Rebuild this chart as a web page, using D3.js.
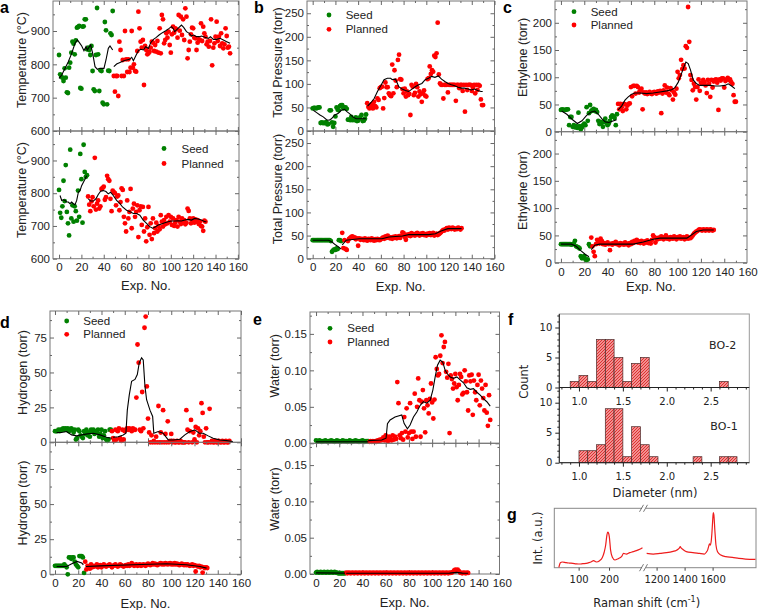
<!DOCTYPE html>
<html>
<head>
<meta charset="utf-8">
<script src="https://cdn.jsdelivr.net/npm/d3@7"></script>
<style>
  body { margin: 0; background: #fff; }
  svg { display: block; }
</style>
</head>
<body>
<script>
// ── data: y values per experiment, x = start index + position ──────────────
const aTopSeed = [828, 770, 763, 760, 750, 788, 760, 716, 714, 790, 805, 835, 868, 862, 830, 872, 910, 912, 915, 729, 727, 913, 914, 935, 935, 845, 850, 843, 828, 855, 780, 725, 720, 828, 969, 830, 720, 782, 780, 685, 680, 927, 902, 680, 781, 780, 893, 888, 960];
const aTopPlan = [
  765, 718, 765, 765, 705, 868, 843, 765, 813, 765,
  900, 815, 777, 815, 777, 790, 900, 790, 800, 780,
  778, 840, 958, 908, 868, 850, 873, 738, 855, 843,
  830, 833, 838, 850, 868, 865, 840, 858, 838, 870,
  835, 908, 833, 948, 935, 863, 873, 893, 880, 898,
  858, 835, 890, 913, 895, 908, 905, 880, 948, 901,
  943, 888, 935, 873, 968, 943, 818, 843, 868, 890,
  910, 908, 880, 878, 843, 865, 875, 873, 923, 870,
  913, 893, 883, 860, 868, 853, 870, 935, 797, 850,
  863, 883, 928, 870, 883, 855, 893, 863, 848, 860,
  908, 885, 850, 853, 833];
const aBotSeed = [810, 740, 725, 760, 838, 776, 886, 743, 708, 671, 933, 723, 763, 713, 760, 745, 716, 808, 728, 920, 843, 710, 948, 865, 850, 855];
const aBotPlan = [
  790, 765, 745, 775, 788, 760, 908, 750, 768, 778,
  753, 760, 813, 816, 820, 780, 788, 853, 843, 838,
  783, 745, 808, 803, 800, 763, 790, 793, 748, 773,
  815, 810, 728, 708, 683, 778, 723, 743, 813, 693,
  753, 768, 728, 743, 763, 666, 748, 760, 703, 758,
  683, 723, 653, 696, 758, 673, 708, 660, 723, 678,
  693, 710, 683, 700, 690, 733, 713, 698, 718, 705,
  728, 708, 733, 713, 728, 703, 723, 700, 710, 718,
  698, 728, 713, 706, 723, 713, 718, 705, 710, 753,
  746, 723, 708, 718, 723, 710, 720, 713, 718, 706,
  713, 700, 698, 685, 716, 713];
const aTopSeedLine = [[0,758],[2.4,768],[5.4,788],[8.3,808],[11.3,833],[14.3,863],[16.4,873],[18.2,865],[20.3,855],[22.3,841],[24.1,853],[25.3,843],[27.1,853],[28.3,858],[30.1,833],[32.2,793],[34.3,785],[36.6,788],[40.2,788],[42,813],[44.1,848],[45.6,855],[48,843]];
const aTopPlanLine = [[49,793],[51.5,801],[54,805],[56,808],[58,811],[60.5,813],[63,815],[65,821],[66.5,811],[69,828],[71,841],[73,845],[75.5,843],[77.5,853],[80,848],[82,865],[84.5,875],[87,881],[89.5,888],[92.5,895],[95.5,901],[98.5,908],[100.5,913],[102,908],[103.5,898],[106.5,908],[109.5,918],[111.5,911],[114,898],[116.5,893],[118.5,885],[120.5,888],[123,883],[125.5,883],[127.5,885],[130.5,881],[133.5,878],[135.5,883],[138,875],[141,875],[144,878],[147,873],[150,868],[153,863]];
const aBotSeedLine = [[0.9,793],[2.4,778],[3.9,780],[5.4,778],[6.8,773],[8.3,773],[9.8,768],[11.3,773],[12.8,768],[14.3,765],[15.8,778],[17.3,803],[18.8,808],[20.2,823],[21.7,833],[23.2,843],[24.7,853]];
const aBotPlanLine = [[26.2,783],[28.3,776],[30.7,776],[33,783],[35.1,796],[37.2,806],[39.6,808],[42,805],[44,798],[46.1,803],[48.5,793],[51.5,778],[54.5,768],[56.8,758],[60.4,748],[63.9,743],[66.4,738],[69.3,738],[72.3,733],[75.3,718],[78.3,708],[81.2,698],[83.6,693],[85.7,696],[88.7,703],[91.7,706],[94.6,710],[97.6,713],[100.6,715],[103.6,715],[106.5,716],[109.5,715],[112.5,718],[115.5,720],[118.5,718],[121.4,723],[124.4,721],[127.4,718],[130.4,713],[131.8,713]];

const bTopSeed = [48, 49, 49, 48, 49, 50, 50, 17, 18, 17, 17, 17, 19, 14, 15, 44, 44, 18, 9, 17, 31, 50, 45, 44, 53, 55, 55, 48, 50, 50, 47, 24, 24, 23, 30, 23, 24, 23, 29, 21, 22, 26, 30, 34, 21, 22, 26, 35];
const bTopPlan = [
  59, 51, 48, 53, 57, 48, 62, 53, 50, 69,
  66, 91, 93, 94, 48, 70, 103, 93, 93, 80,
  76, 74, 141, 80, 129, 107, 93, 151, 162, 110,
  109, 89, 80, 90, 73, 84, 76, 79, 34, 98,
  94, 76, 81, 100, 93, 73, 84, 78, 62, 80,
  86, 75, 73, 110, 112, 137, 121, 129, 126, 160,
  157, 165, 230, 120, 101, 98, 98, 69, 98, 98,
  98, 82, 98, 98, 98, 98, 98, 98, 64, 98,
  98, 91, 98, 98, 85, 98, 41, 98, 87, 98,
  98, 98, 85, 93, 98, 80, 98, 87, 98, 96,
  67, 55, 55];
const bBotSeed = [40, 40, 40, 40, 40, 40, 40, 40, 40, 40, 40, 40, 40, 40, 40, 40, 38, 15, 18, 20, 19, 22, 21, 40, 40, 38];
const bBotPlan = [
  56, 23, 40, 21, 19, 38, 43, 45, 47, 48,
  45, 46, 42, 44, 28, 44, 41, 43, 42, 40,
  44, 41, 39, 43, 42, 40, 44, 41, 39, 42,
  40, 43, 41, 40, 42, 44, 46, 43, 48, 45,
  50, 47, 44, 46, 43, 47, 45, 48, 44, 46,
  49, 45, 50, 57, 55, 47, 41, 52, 50, 53,
  49, 55, 51, 53, 50, 54, 56, 52, 50, 54,
  52, 55, 51, 53, 50, 54, 52, 55, 51, 53,
  56, 50, 52, 54, 51, 53, 55, 57, 60, 62,
  61, 64, 66, 63, 67, 65, 64, 67, 66, 63,
  65, 64, 67, 66, 63, 66];
const bTopSeedLine = [[0.6,44],[3.5,39],[6.4,34],[9.3,30],[12.2,24],[14.5,23],[16.5,26],[19.4,34],[22.3,37],[25.2,44],[28.1,46],[30.1,41],[32.4,37],[35.3,30],[38.2,26],[41.1,26],[44,26],[46.9,26]];
const bTopPlanLine = [[48.3,53],[51.2,60],[54.1,69],[57,84],[59.9,96],[62.8,109],[65.7,112],[68.6,112],[70,109],[72.9,110],[75.8,94],[78.7,89],[81.6,86],[84.5,84],[87.4,89],[90.3,94],[93.2,98],[96.1,101],[99,109],[101.9,112],[104.7,116],[107.6,114],[110.5,117],[113.4,110],[116.3,105],[119.2,101],[122.1,98],[125,96],[127.9,93],[130.8,91],[133.7,91],[136.6,89],[139.5,87],[142.4,89],[145.3,86],[148.1,84],[149.6,84]];
const bBotSeedLine = [[0,40],[14,40],[17,36],[20,30],[23,25],[25,21]];
const bBotPlanLine = [[26,30],[29.5,40],[41,43],[61,43],[67,47],[79,49],[84.5,52],[102,52],[108,54],[113,60],[119,65],[128,65],[131,65]];

const cTopSeed = [40, 41, 40, 40, 40, 41, 41, 12, 27, 27, 9, 12, 8, 10, 7, 35, 10, 4, 8, 12, 15, 12, 45, 20, 34, 49, 38, 40, 42, 38, 40, 36, 20, 14, 18, 16, 9, 18, 24, 16, 12, 15, 20, 27, 30, 28, 25, 12, 32];
const cTopPlan = [
  51, 41, 51, 45, 38, 51, 50, 41, 48, 51,
  52, 82, 65, 84, 84, 70, 84, 82, 72, 76,
  79, 41, 72, 70, 72, 69, 71, 73, 70, 69,
  72, 73, 71, 70, 74, 72, 75, 34, 70, 76,
  85, 72, 81, 70, 67, 80, 76, 59, 72, 68,
  79, 110, 98, 104, 132, 115, 122, 116, 157, 154,
  229, 165, 104, 95, 76, 88, 82, 59, 82, 96,
  75, 90, 88, 95, 91, 85, 71, 95, 88, 64,
  95, 81, 92, 95, 96, 90, 40, 96, 94, 98,
  98, 81, 93, 96, 99, 95, 96, 91, 88, 67,
  55, 55];
const cBotSeed = [34, 34, 34, 34, 34, 34, 34, 34, 34, 33, 34, 35, 40, 30, 29, 28, 26, 12, 8, 10, 12, 6, 5, 6, 34, 30];
const cBotPlan = [
  46, 30, 20, 12, 34, 42, 38, 35, 44, 40,
  34, 36, 33, 35, 37, 34, 23, 35, 33, 36,
  35, 38, 34, 35, 32, 36, 34, 35, 33, 37,
  34, 35, 32, 36, 34, 38, 36, 40, 38, 42,
  37, 39, 36, 40, 38, 35, 39, 37, 41, 36,
  38, 35, 42, 50, 47, 37, 45, 43, 46, 44,
  48, 45, 43, 47, 50, 44, 46, 43, 47, 45,
  44, 48, 46, 43, 47, 45, 48, 44, 46, 47,
  43, 45, 48, 44, 46, 45, 47, 50, 53, 55,
  57, 58, 60, 61, 60, 59, 61, 60, 59, 61,
  60, 59, 61, 60, 59, 60];
const cTopSeedLine = [[0.6,38],[5,32],[10,22],[14,15],[18,20],[22,30],[26,36],[29,38],[32,32],[35,24],[38,18],[41,17],[44,19],[47.7,22]];
const cTopPlanLine = [[49.1,40],[52,47],[54.9,58],[57.7,64],[60.6,69],[63.4,71],[67.7,71],[73.4,70],[79.1,71],[84.9,73],[90.6,75],[94.9,77],[97.7,81],[100.6,91],[103.4,107],[105.4,119],[107.1,128],[109.1,125],[111.1,113],[113.4,95],[116.3,88],[119.1,85],[123.4,85],[127.7,85],[132,84],[136.3,84],[140.6,85],[143.4,88],[146.3,84],[149.1,79]];
const cBotSeedLine = [[0,34],[9,34],[13,30],[17,22],[21,15],[24,11]];
const cBotPlanLine = [[26,24],[29,32],[33,34],[62,34],[70.6,38],[79,43],[85,45],[108,45],[116,57],[122,60],[131,60]];

const dTopSeed = [8, 8, 8, 9, 8, 9, 9, 10, 9, 10, 9, 10, 8, 9, 10, 9, 7, 9, 2, 3, 9, 8, 5, 4, 3, 8, 6, 9, 5, 7, 4, 9, 8, 9, 6, 8, 7, 9, 4, 6, 9, 3, 5, 8, 2, 1, 2, 9, 9];
const dTopPlan = [
  8, 3, 1, 9, 2, 8, 10, 3, 1, 9,
  2, 8, 9, 10, 9, 10, 9, 8, 10, 9,
  9, 32, 70, 57, 9, 8, 36, 10, 82, 90,
  40, 17, 7, 0, 5, 0, 1, 0, 4, 0,
  26, 0, 7, 0, 23, 0, 6, 0, 15, 0,
  1, 6, 0, 1, 0, 0, 1, 0, 0, 1,
  0, 0, 0, 0, 23, 9, 0, 8, 16, 0,
  7, 2, 11, 0, 10, 5, 8, 28, 21, 4,
  0, 10, 0, 0, 24, 0, 1, 0, 0, 1,
  0, 0, 1, 0, 0, 1, 0, 0, 1, 0,
  0, 1];
const dBotSeed = [6, 6, 6, 6, 6, 6, 6, 6, 7, 6, 5, 0, 12, 12, 11, 12, 12, 9, 7, 6, 5, 13, 13, 13, 12, 1];
const dBotPlan = [
  9, 3.5, 6, 5, 4, 7, 5, 6, 5.5, 6,
  7, 5, 6, 6.5, 5, 6, 7, 6, 5.5, 6,
  6.5, 7, 6, 5, 6, 6.5, 7, 6, 5.5, 6,
  7, 6.5, 6, 5.5, 6, 6.5, 6, 7, 6, 6.5,
  8, 7, 6, 6.5, 7, 6, 6.5, 7, 6, 6.5,
  7, 6.5, 6, 7, 7.5, 7, 6.5, 7, 8, 7,
  7.5, 7, 6.5, 7, 7.5, 8, 7, 7.5, 7, 8,
  7.5, 7, 7.5, 8, 7, 7.5, 7, 8, 7, 7.5,
  7, 6.5, 7, 7.5, 7, 6.5, 7, 6.5, 7, 6.5,
  6, 6.5, 7, 6, 6.5, 2, 6, 5.5, 6, 5,
  5.5, 1.2, 5, 4.5, 5, 4.5];
const dTopSeedLine = [[1.4,7],[5.7,7],[10,7.7],[14.3,5.3],[18.6,4.6],[23,5.3],[27.8,6],[33,6.5],[38.7,5.3],[44.4,3.6],[48.7,2.9]];
const dTopPlanLine = [[50,3.6],[54.4,4],[58.7,5.3],[61,6.5],[62.2,23],[63.9,34],[65.9,43.7],[68.8,45],[70.8,48.5],[72.5,57],[74.5,60.5],[75.9,59],[77.4,40],[78.8,30.5],[81.7,23],[84,18.5],[85,6.5],[88.8,7.7],[93,6.5],[97.4,1.7],[101.7,1.7],[107.4,2.2],[111.7,5.3],[116,7.7],[120.3,8.9],[124,6.5],[127.5,6.5],[131.8,4.6],[136,2.9],[141.8,1.7],[147.6,1.2],[153,0.5]];
const dBotSeedLine = [[1.4,5.6],[10,5.6],[14,7.3],[19,9.2],[23,8],[24.4,6.8]];
const dBotPlanLine = [[26.6,5.6],[38.7,6],[67.3,6.8],[96,7.5],[113,6.8],[124.6,5.6],[130.4,4.4]];

const eTopSeed = [0.004, 0.003, 0.003, 0.004, 0.003, 0.002, 0.003, 0.003, 0.004, 0.003, 0.002, 0.003, 0.003, 0.004, 0.003, 0.003, 0.002, 0.003, 0.004, 0.003, 0.003, 0.002, 0.003, 0.004, 0.003, 0.003, 0.003, 0.002, 0.003, 0.004, 0.003, 0.002, 0.003, 0.003, 0.004, 0.003, 0.003, 0.002, 0.003, 0.003, 0.004, 0.003, 0.002, 0.003, 0.003, 0.003];
const eTopPlan = [
  0.002, 0.003, 0.002, 0.003, 0.002, 0.003, 0.002, 0.004, 0.003, 0.005,
  0.004, 0.006, 0.008, 0.004, 0.011, 0.006, 0.003, 0.009, 0.006, 0.004,
  0.011, 0.005, 0.009, 0.006, 0.084, 0.055, 0.011, 0.007, 0.014, 0.005,
  0.036, 0.016, 0.048, 0.008, 0.014, 0.055, 0.016, 0.006, 0.016, 0.068,
  0.009, 0.050, 0.089, 0.059, 0.009, 0.057, 0.073, 0.048, 0.015, 0.059,
  0.052, 0.041, 0.061, 0.082, 0.056, 0.034, 0.060, 0.118, 0.102, 0.093,
  0.095, 0.120, 0.148, 0.110, 0.132, 0.139, 0.098, 0.090, 0.109, 0.014,
  0.093, 0.088, 0.075, 0.082, 0.095, 0.077, 0.059, 0.080, 0.095, 0.091,
  0.067, 0.069, 0.100, 0.085, 0.070, 0.045, 0.093, 0.085, 0.094, 0.039,
  0.086, 0.070, 0.059, 0.080, 0.094, 0.052, 0.086, 0.075, 0.062, 0.045,
  0.080, 0.042, 0.024, 0.066, 0.032];
const eBotSeed = [0.002, 0.003, 0.002, 0.002, 0.003, 0.002, 0.002, 0.003, 0.002, 0.002, 0.003, 0.002, 0.002, 0.003, 0.002, 0.002, 0.003, 0.002, 0.002, 0.001, 0.001, 0.001, 0.001, 0.001, 0.001, 0.001];
const eBotPlan = [
  0.002, 0.001, 0.002, 0.0015, 0.001, 0.002, 0.0015, 0.001, 0.002, 0.0015,
  0.001, 0.002, 0.0015, 0.001, 0.002, 0.0015, 0.001, 0.002, 0.0015, 0.001,
  0.002, 0.0015, 0.001, 0.002, 0.0015, 0.001, 0.002, 0.0015, 0.001, 0.002,
  0.0015, 0.001, 0.002, 0.0015, 0.001, 0.002, 0.0015, 0.001, 0.002, 0.0015,
  0.001, 0.002, 0.0015, 0.001, 0.002, 0.0015, 0.001, 0.002, 0.0015, 0.001,
  0.002, 0.0015, 0.001, 0.002, 0.0015, 0.001, 0.002, 0.0015, 0.001, 0.002,
  0.0015, 0.001, 0.002, 0.0015, 0.001, 0.002, 0.0015, 0.001, 0.002, 0.0015,
  0.001, 0.002, 0.0015, 0.001, 0.002, 0.0015, 0.001, 0.002, 0.0015, 0.001,
  0.002, 0.0015, 0.001, 0.002, 0.0015, 0.001, 0.002, 0.0015, 0.001, 0.002,
  0.0015, 0.002, 0.003, 0.005, 0.006, 0.005, 0.006, 0.004, 0.002, 0.0015,
  0.001, 0.002, 0.0015, 0.001, 0.002, 0.0015];
const eTopSeedLine = [[0,0.002],[45,0.002]];
const eTopPlanLine = [[45,0.0036],[56.6,0.0045],[60.3,0.007],[61.5,0.027],[63.8,0.032],[68,0.036],[73.8,0.039],[75.9,0.027],[78.7,0.02],[81,0.025],[83.9,0.036],[86.8,0.043],[89.7,0.052],[92.5,0.057],[95.4,0.055],[98.3,0.059],[100.6,0.073],[102.6,0.091],[104.6,0.107],[106.9,0.114],[109.2,0.111],[111.2,0.1],[113.2,0.095],[115.5,0.091],[118.4,0.089],[121.3,0.091],[124.1,0.087],[127,0.083],[129.9,0.076],[132.8,0.074],[135.6,0.075],[138.5,0.07],[141.4,0.066],[144.3,0.061],[147.1,0.057],[150,0.051]];
const eBotSeedLine = [[0,0.0015],[25,0.0012]];
const eBotPlanLine = [[26,0.001],[115,0.0012],[121,0.0022],[126,0.0012],[131,0.001]];

// diameter histograms, bins of 0.1 nm starting at these edges
const binStarts = [0.9, 1.0, 1.1, 1.2, 1.3, 1.4, 1.5, 1.6, 1.7, 1.8, 1.9, 2.0, 2.1, 2.2, 2.3, 2.4, 2.5, 2.6, 2.7];
const bo2Counts = [1, 2, 1, 8, 8, 5, 1, 4, 5, 0, 0, 0, 0, 0, 0, 0, 0, 1, 0];
const bo1Counts = [0, 2, 2, 3, 9, 9, 1, 6, 3, 1, 0, 0, 0, 0, 1, 0, 0, 1, 1];

// raman spectrum (two windows of the broken axis)
const ramanLowX = [35, 40, 46, 59, 70, 81, 92, 103, 114, 125, 134, 142, 149, 158, 169, 178, 184, 189, 193, 196, 198, 201, 205, 211, 219, 230, 241, 248, 257, 268, 279, 290, 301, 310];
const ramanLowY = [0.006, 0.084, 0.096, 0.084, 0.078, 0.073, 0.066, 0.062, 0.068, 0.073, 0.085, 0.1, 0.118, 0.096, 0.118, 0.17, 0.26, 0.382, 0.55, 0.6, 0.59, 0.52, 0.3, 0.174, 0.13, 0.152, 0.185, 0.24, 0.23, 0.253, 0.27, 0.287, 0.31, 0.337];
const ramanHighX = [1129, 1176, 1224, 1271, 1318, 1340, 1353, 1362, 1369, 1376, 1384, 1412, 1459, 1506, 1541, 1555, 1565, 1572, 1578, 1584, 1591, 1595, 1600, 1605, 1609, 1616, 1624, 1635, 1659, 1694, 1741, 1788, 1835, 1906];
const ramanHighY = [0.24, 0.23, 0.24, 0.253, 0.275, 0.29, 0.31, 0.33, 0.354, 0.33, 0.315, 0.27, 0.253, 0.24, 0.23, 0.26, 0.3, 0.36, 0.4, 0.38, 0.466, 0.58, 0.775, 0.927, 0.89, 0.635, 0.382, 0.27, 0.213, 0.185, 0.174, 0.157, 0.146, 0.14];

const expTicks = [0, 20, 40, 60, 80, 100, 120, 140, 160];
const expMinor = [10, 30, 50, 70, 90, 110, 130, 150];

// ── drawing ────────────────────────────────────────────────────────────────
const SANS = "'Liberation Sans', Arial, Helvetica, sans-serif";
const IGOR = "'DejaVu Sans', Verdana, sans-serif";
const GREEN = "#008000", RED = "#ff0000";

const svg = d3.select("body").append("svg")
  .attr("width", 758).attr("height", 610)
  .attr("font-family", SANS);

function tickSet(g, axis, transform, values, size, fmt, opts = {}) {
  axis.tickValues(values).tickSize(size).tickPadding(opts.pad ?? 3);
  axis.tickFormat(fmt || (() => ""));
  const sel = g.append("g").attr("transform", transform).call(axis);
  sel.attr("font-family", opts.font || SANS).attr("font-size", opts.fs || 11.5);
  sel.select(".domain").remove();
  sel.selectAll("line").attr("stroke", opts.color || "#666");
  sel.selectAll("text").attr("fill", "#222");
  return sel;
}

function expPanel(p) {
  const g = svg.append("g");
  const x = d3.scaleLinear().domain(p.xDomain).range([p.left, p.right]);
  const parts = [
    { d: p.upper, y0: p.top, y1: p.mid, labY: p.labY[0] },
    { d: p.lower, y0: p.mid, y1: p.bottom, labY: p.labY[1] }
  ];
  parts.forEach((s, k) => {
    const y = d3.scaleLinear().domain(p.yDomain).range([s.y1, s.y0]);

    g.append("rect")
      .attr("x", p.left).attr("y", s.y0)
      .attr("width", p.right - p.left).attr("height", s.y1 - s.y0)
      .attr("fill", "none").attr("stroke", "#777").attr("stroke-width", 1);

    tickSet(g, d3.axisLeft(y), `translate(${p.left},0)`, p.yTicks, -4, p.yFmt);
    tickSet(g, d3.axisLeft(y), `translate(${p.left},0)`, p.yMinor, -2);
    tickSet(g, d3.axisRight(y), `translate(${p.right},0)`, p.yTicks, -4);
    tickSet(g, d3.axisRight(y), `translate(${p.right},0)`, p.yMinor, -2);
    const bx = tickSet(g, d3.axisBottom(x), `translate(0,${s.y1})`, expTicks, -4,
      k === 1 ? d3.format("d") : null, { pad: p.xPad });
    bx.selectAll(".tick").filter(v => x(v) > p.right + 0.5).select("line").remove();
    tickSet(g, d3.axisBottom(x), `translate(0,${s.y1})`, expMinor, -2);
    const tx = tickSet(g, d3.axisTop(x), `translate(0,${s.y0})`, expTicks, -4);
    tx.selectAll(".tick").filter(v => x(v) > p.right + 0.5).select("line").remove();
    tickSet(g, d3.axisTop(x), `translate(0,${s.y0})`, expMinor, -2);

    const seed = s.d.seed.map((v, i) => [i, v]);
    const plan = s.d.plan.map((v, i) => [s.d.planStart + i, v]);
    g.append("g").selectAll("circle").data(seed).join("circle")
      .attr("cx", q => x(q[0])).attr("cy", q => y(q[1])).attr("r", 2.4).attr("fill", GREEN);
    g.append("g").selectAll("circle").data(plan).join("circle")
      .attr("cx", q => x(q[0])).attr("cy", q => y(q[1])).attr("r", 2.4).attr("fill", RED);

    const line = d3.line().x(q => x(q[0])).y(q => y(q[1]));
    [s.d.seedLine, s.d.planLine].forEach(l => {
      g.append("path").attr("d", line(l))
        .attr("fill", "none").attr("stroke", "#000").attr("stroke-width", 1.1);
    });

    g.append("text")
      .attr("transform", `translate(${p.labX},${s.labY}) rotate(-90)`)
      .attr("text-anchor", "middle").attr("dominant-baseline", "central")
      .attr("font-size", 12.5).attr("fill", "#222")
      .text(p.ylabel);
  });

  g.append("text")
    .attr("x", (p.left + p.right) / 2).attr("y", p.xLabY)
    .attr("text-anchor", "middle").attr("font-size", 13).attr("fill", "#222")
    .text("Exp. No.");

  const lg = p.legend;
  [["Seed", GREEN], ["Planned", RED]].forEach(([name, col], i) => {
    g.append("circle").attr("cx", lg.x).attr("cy", lg.y + i * lg.dy).attr("r", 2.4).attr("fill", col);
    g.append("text").attr("x", lg.tx).attr("y", lg.y + i * lg.dy)
      .attr("dominant-baseline", "central").attr("font-size", 11.5).attr("fill", "#222")
      .text(name);
  });

  g.append("text").attr("x", p.tag[0]).attr("y", p.tag[1])
    .attr("font-size", 16).attr("font-weight", "bold").text(p.tag[2]);
}

expPanel({
  left: 53, right: 239, top: 1, mid: 131, bottom: 258.7,
  xDomain: [-5.4, 161], yDomain: [600, 990],
  yTicks: [600, 700, 800, 900], yMinor: [650, 750, 850, 950], yFmt: d3.format("d"),
  ylabel: "Temperature (\u00b0C)", labX: 22, labY: [60, 190], xLabY: 289.5, xPad: 4,
  upper: { seed: aTopSeed, planStart: 49, plan: aTopPlan, seedLine: aTopSeedLine, planLine: aTopPlanLine },
  lower: { seed: aBotSeed, planStart: 26, plan: aBotPlan, seedLine: aBotSeedLine, planLine: aBotPlanLine },
  legend: { x: 164, y: 148.5, dy: 15, tx: 181.5 }, tag: [0, 13, "a"]
});
expPanel({
  left: 307, right: 494.5, top: 1, mid: 131, bottom: 258.7,
  xDomain: [-5, 160], yDomain: [0, 276],
  yTicks: [0, 50, 100, 150, 200, 250], yMinor: [25, 75, 125, 175, 225], yFmt: d3.format("d"),
  ylabel: "Total Pressure (torr)", labX: 278.3, labY: [62.5, 189], xLabY: 291, xPad: 4,
  upper: { seed: bTopSeed, planStart: 48, plan: bTopPlan, seedLine: bTopSeedLine, planLine: bTopPlanLine },
  lower: { seed: bBotSeed, planStart: 26, plan: bBotPlan, seedLine: bBotSeedLine, planLine: bBotPlanLine },
  legend: { x: 329, y: 15, dy: 14.3, tx: 345.7 }, tag: [254, 13, "b"]
});
expPanel({
  left: 555, right: 747, top: 1, mid: 131.7, bottom: 262.7,
  xDomain: [-5.1, 159.5], yDomain: [0, 240],
  yTicks: [0, 50, 100, 150, 200], yMinor: [25, 75, 125, 175, 225], yFmt: d3.format("d"),
  ylabel: "Ethylene (torr)", labX: 523.3, labY: [57.5, 190.5], xLabY: 291, xPad: 5,
  upper: { seed: cTopSeed, planStart: 49, plan: cTopPlan, seedLine: cTopSeedLine, planLine: cTopPlanLine },
  lower: { seed: cBotSeed, planStart: 26, plan: cBotPlan, seedLine: cBotSeedLine, planLine: cBotPlanLine },
  legend: { x: 574, y: 11.7, dy: 13.3, tx: 590.7 }, tag: [503, 13, "c"]
});
expPanel({
  left: 50, right: 241, top: 311, mid: 442.3, bottom: 574.3,
  xDomain: [-4.3, 160], yDomain: [0, 94],
  yTicks: [0, 25, 50, 75], yMinor: [12.5, 37.5, 62.5, 87.5], yFmt: d3.format("d"),
  ylabel: "Hydrogen (torr)", labX: 23.3, labY: [372.5, 503], xLabY: 607.5, xPad: 5,
  upper: { seed: dTopSeed, planStart: 49, plan: dTopPlan, seedLine: dTopSeedLine, planLine: dTopPlanLine },
  lower: { seed: dBotSeed, planStart: 26, plan: dBotPlan, seedLine: dBotSeedLine, planLine: dBotPlanLine },
  legend: { x: 66.7, y: 321, dy: 13.3, tx: 83.3 }, tag: [0, 328, "d"]
});
expPanel({
  left: 310, right: 499.5, top: 312, mid: 443.3, bottom: 574,
  xDomain: [-5.2, 158], yDomain: [0, 0.18],
  yTicks: [0, 0.05, 0.10, 0.15], yMinor: [0.025, 0.075, 0.125, 0.175], yFmt: d3.format(".2f"),
  ylabel: "Water (torr)", labX: 275, labY: [365.7, 499], xLabY: 607, xPad: 5,
  upper: { seed: eTopSeed, planStart: 46, plan: eTopPlan, seedLine: eTopSeedLine, planLine: eTopPlanLine },
  lower: { seed: eBotSeed, planStart: 26, plan: eBotPlan, seedLine: eBotSeedLine, planLine: eBotPlanLine },
  legend: { x: 330, y: 328.3, dy: 13.7, tx: 347.3 }, tag: [253, 325, "e"]
});

// ── f: diameter histograms ────────────────────────────────────────────────
(function () {
  const g = svg.append("g");
  const defs = svg.append("defs");
  const pat = defs.append("pattern").attr("id", "hatch")
    .attr("patternUnits", "userSpaceOnUse").attr("width", 3).attr("height", 3);
  pat.append("rect").attr("width", 3).attr("height", 3).attr("fill", "#f29090");
  pat.append("path").attr("d", "M0,3L3,0M-1,1L1,-1M2,4L4,2").attr("stroke", "#d92626").attr("stroke-width", 0.9);

  const L = 559.3, R = 749.3;
  const x = d3.scaleLinear().domain([0.776, 2.94]).range([L, R]);
  const hists = [
    { counts: bo2Counts, name: "BO-2", y0: 314, y1: 387.5, nx: 722.7, ny: 345.7 },
    { counts: bo1Counts, name: "BO-1", y0: 387.5, y1: 462.7, nx: 724, ny: 426.7 }
  ];
  g.append("rect").attr("x", L).attr("y", 314).attr("width", R - L).attr("height", 462.7 - 314)
    .attr("fill", "none").attr("stroke", "#999");
  hists.forEach(h => {
    const y = d3.scaleLinear().domain([0, 10]).range([h.y1, h.y1 - 60]);
    const bins = binStarts.map((b, i) => ({ b, c: h.counts[i] })).filter(q => q.c > 0);
    g.append("g").selectAll("rect").data(bins).join("rect")
      .attr("x", q => x(q.b)).attr("width", q => x(q.b + 0.1) - x(q.b))
      .attr("y", q => y(q.c)).attr("height", q => h.y1 - y(q.c))
      .attr("fill", "url(#hatch)").attr("stroke", "#4a2a2a").attr("stroke-width", 0.7);

    tickSet(g, d3.axisLeft(y), `translate(${L},0)`, [0, 5, 10], 4, d3.format("d"),
      { font: IGOR, fs: 10, color: "#222", pad: 3 });
    tickSet(g, d3.axisLeft(y), `translate(${L},0)`, [1, 2, 3, 4, 6, 7, 8, 9, 11, 12], 2, null, { color: "#222" });
    tickSet(g, d3.axisBottom(x), `translate(0,${h.y1})`, [1.0, 1.5, 2.0, 2.5], 4, d3.format(".1f"),
      { font: IGOR, fs: 10, color: "#222", pad: 6 });
    tickSet(g, d3.axisBottom(x), `translate(0,${h.y1})`, [0.8, 0.9, 1.1, 1.2, 1.3, 1.4, 1.6, 1.7, 1.8, 1.9, 2.1, 2.2, 2.3, 2.4, 2.6, 2.7, 2.8, 2.9], 2, null, { color: "#222" });
    g.append("line").attr("x1", L).attr("x2", R).attr("y1", h.y1).attr("y2", h.y1).attr("stroke", "#222");
    g.append("text").attr("x", h.nx).attr("y", h.ny).attr("text-anchor", "middle")
      .attr("dominant-baseline", "central").attr("font-family", IGOR).attr("font-size", 11).attr("fill", "#222")
      .text(h.name);
  });
  g.append("line").attr("x1", L).attr("x2", L).attr("y1", 314).attr("y2", 462.7).attr("stroke", "#222");
  g.append("text").attr("transform", "translate(524,381.7) rotate(-90)")
    .attr("text-anchor", "middle").attr("dominant-baseline", "central")
    .attr("font-family", IGOR).attr("font-size", 11.5).attr("fill", "#222").text("Count");
  g.append("text").attr("x", 655).attr("y", 496.7).attr("text-anchor", "middle")
    .attr("font-family", IGOR).attr("font-size", 11.5).attr("fill", "#222").text("Diameter (nm)");
  g.append("text").attr("x", 508).attr("y", 325).attr("font-size", 16).attr("font-weight", "bold").text("f");
})();

// ── g: Raman spectrum with broken axis ───────────────────────────────────
(function () {
  const g = svg.append("g");
  const L = 554.3, B = 644, R = 756, T = 508.3, Bot = 567.7;
  const xl = d3.scaleLinear().domain([20, 315]).range([L, B]);
  const xh = d3.scaleLinear().domain([1110, 1910]).range([B, R]);
  const y = d3.scaleLinear().domain([0, 1]).range([Bot, T]);

  g.append("rect").attr("x", L).attr("y", T).attr("width", R - L).attr("height", Bot - T)
    .attr("fill", "none").attr("stroke", "#888");
  [T, Bot].forEach(yy => {
    g.append("rect").attr("x", B - 2).attr("y", yy - 1).attr("width", 4).attr("height", 2).attr("fill", "#fff");
    [-2.5, 1.5].forEach(dx => {
      g.append("line").attr("x1", B + dx - 2).attr("y1", yy + 3.5).attr("x2", B + dx + 2).attr("y2", yy - 3.5)
        .attr("stroke", "#555").attr("stroke-width", 0.8);
    });
  });

  tickSet(g, d3.axisBottom(xl), `translate(0,${Bot})`, [100, 200], 3, d3.format("d"),
    { font: IGOR, fs: 10, color: "#444", pad: 5 });
  tickSet(g, d3.axisBottom(xh), `translate(0,${Bot})`, [1200, 1400, 1600], 3, d3.format("d"),
    { font: IGOR, fs: 10, color: "#444", pad: 5 });

  const low = ramanLowX.map((v, i) => [v, ramanLowY[i]]);
  const high = ramanHighX.map((v, i) => [v, ramanHighY[i]]);
  g.append("path").attr("d", d3.line().x(q => xl(q[0])).y(q => y(q[1])).curve(d3.curveMonotoneX)(low))
    .attr("fill", "none").attr("stroke", "#ee1c1c").attr("stroke-width", 1.2);
  g.append("path").attr("d", d3.line().x(q => xh(q[0])).y(q => y(q[1])).curve(d3.curveMonotoneX)(high))
    .attr("fill", "none").attr("stroke", "#ee1c1c").attr("stroke-width", 1.2);

  g.append("text").attr("transform", "translate(538,538) rotate(-90)")
    .attr("text-anchor", "middle").attr("dominant-baseline", "central")
    .attr("font-family", IGOR).attr("font-size", 11.5).attr("fill", "#222").text("Int. (a.u.)");
  const t = g.append("text").attr("x", 646.7).attr("y", 607).attr("text-anchor", "middle")
    .attr("font-family", IGOR).attr("font-size", 11.5).attr("fill", "#222");
  t.append("tspan").text("Raman shift (cm");
  t.append("tspan").attr("dy", -5).attr("font-size", 8).text("-1");
  t.append("tspan").attr("dy", 5).text(")");
  g.append("text").attr("x", 507).attr("y", 520).attr("font-size", 16).attr("font-weight", "bold").text("g");
})();
</script>
</body>
</html>
